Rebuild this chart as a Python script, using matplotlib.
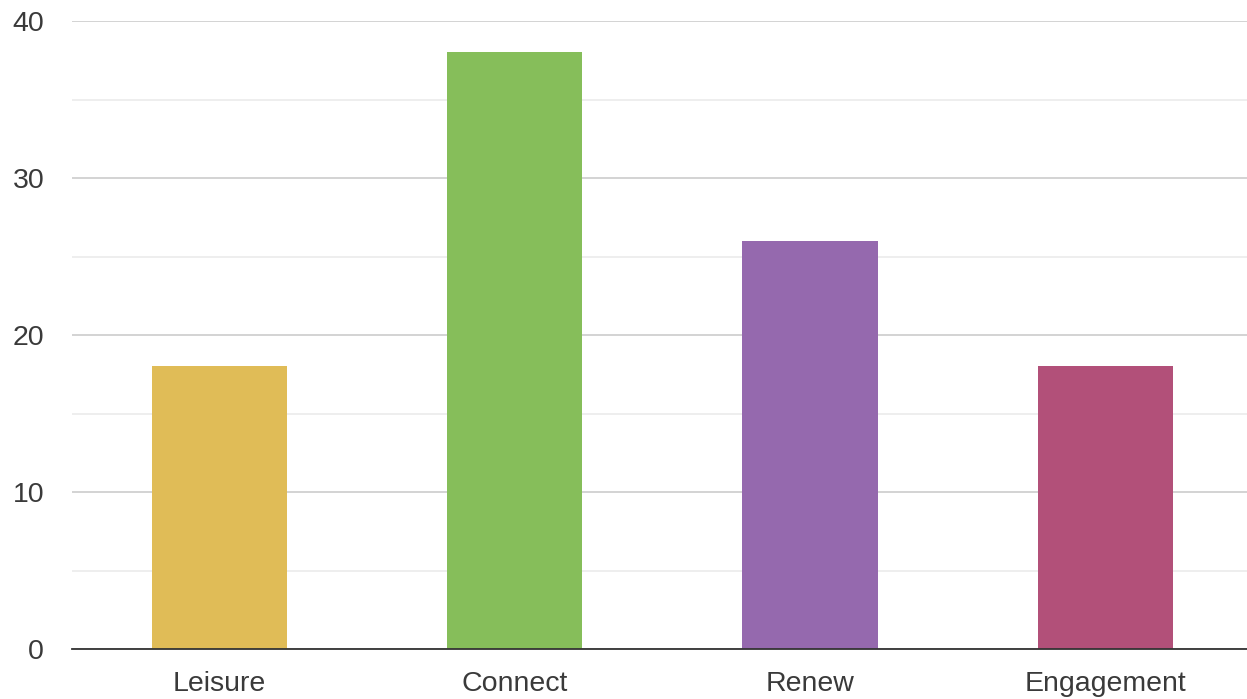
import numpy as np
import matplotlib.pyplot as plt

categories = ['Leisure', 'Connect', 'Renew', 'Engagement']
values = [18, 38, 26, 18]
colors = ['#E0BC57', '#86BE5A', '#9569AE', '#B25079']

plt.rcParams['font.family'] = ['Liberation Sans', 'DejaVu Sans']

fig = plt.figure(figsize=(12.47, 6.99), dpi=100)
ax = fig.add_axes([72 / 1247, 50 / 699, 1 - 72 / 1247, 628 / 699])

x = np.arange(len(categories))
ax.bar(x, values, width=0.458, color=colors, zorder=3)

ax.set_ylim(0, 40)
ax.set_xlim(-0.5, 3.48)
ax.set_yticks([0, 10, 20, 30, 40])
ax.set_yticks([5, 15, 25, 35], minor=True)
ax.set_xticks(x)
ax.set_xticklabels(categories)
ax.grid(axis='y', which='major', color='#cccccc', linewidth=1.2, zorder=0)
ax.grid(axis='y', which='minor', color='#ebebeb', linewidth=1.2, zorder=0)
ax.tick_params(axis='both', which='both', length=0, labelsize=20.5, colors='#3a3a3a')
ax.tick_params(axis='y', pad=20)
ax.tick_params(axis='x', pad=16)
for s in ['left', 'right', 'top']:
    ax.spines[s].set_visible(False)
ax.spines['bottom'].set_color('#333333')
ax.spines['bottom'].set_linewidth(1.3)
ax.spines['bottom'].set_zorder(4)

plt.savefig('out.png', dpi=100)
